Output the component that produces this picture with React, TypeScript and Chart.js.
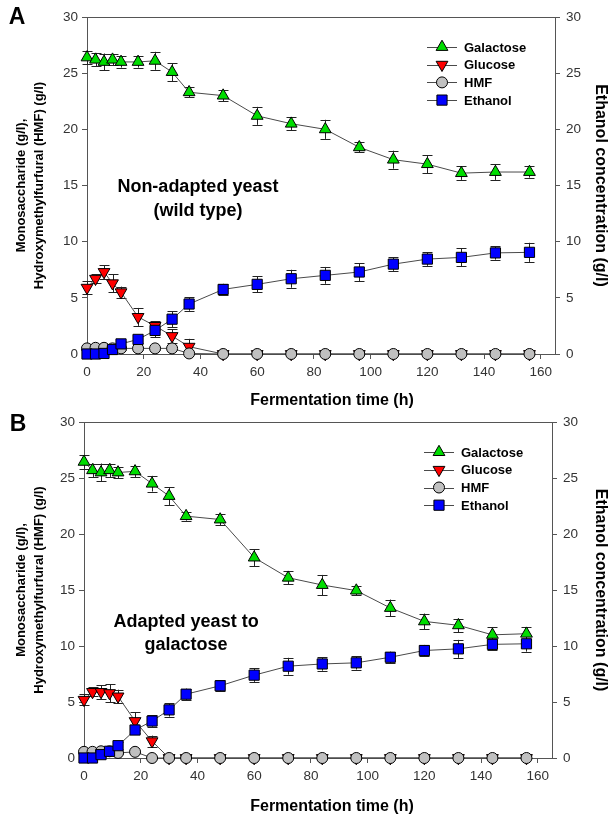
import React, { useEffect, useRef } from 'react';
import { Chart, registerables } from 'chart.js';
Chart.register(...registerables);

// ---------- data ----------
const timeH = [0, 3, 6, 9, 12, 18, 24, 30, 36, 48, 60, 72, 84, 96, 108, 120, 132, 144, 156];
const xTicks = [0, 20, 40, 60, 80, 100, 120, 140, 160];
const yTicks = [0, 5, 10, 15, 20, 25, 30];

const galactoseA = [26.4, 26.2, 26.0, 26.2, 26.0, 26.0, 26.1, 25.1, 23.3, 23.0, 21.2, 20.5, 20.0, 18.4, 17.3, 16.9, 16.1, 16.2, 16.2];
const galactoseAErr = [0.6, 0.6, 0.75, 0.5, 0.5, 0.5, 0.8, 0.8, 0.45, 0.5, 0.8, 0.6, 0.85, 0.45, 0.8, 0.8, 0.6, 0.7, 0.5];
const glucoseA = [5.9, 6.7, 7.3, 6.3, 5.5, 3.3, 2.5, 1.6, 0.65, 0, 0, 0, 0, 0, 0, 0, 0, 0, 0];
const glucoseAErr = [0.6, 0.4, 0.6, 0.8, 0.5, 0.8, 0.4, 0.6, 0.7, 0, 0, 0, 0, 0, 0, 0, 0, 0, 0];
const hmfA = [0.5, 0.55, 0.55, 0.5, 0.5, 0.5, 0.5, 0.5, 0.05, 0, 0, 0, 0, 0, 0, 0, 0, 0, 0];
const hmfAErr = [0.1, 0.25, 0.25, 0.15, 0.1, 0.1, 0.1, 0.1, 0, 0, 0, 0, 0, 0, 0, 0, 0, 0, 0];
const ethanolA = [0, 0, 0.05, 0.4, 0.9, 1.3, 2.1, 3.1, 4.45, 5.75, 6.2, 6.7, 7.0, 7.3, 8.0, 8.45, 8.6, 9.0, 9.05];
const ethanolAErr = [0.1, 0.1, 0.1, 0.2, 0.3, 0.3, 0.6, 0.7, 0.6, 0.5, 0.7, 0.8, 0.75, 0.8, 0.6, 0.6, 0.8, 0.6, 0.85];

const galactoseB = [26.45, 25.7, 25.5, 25.7, 25.5, 25.6, 24.5, 23.4, 21.6, 21.3, 17.9, 16.1, 15.45, 14.95, 13.4, 12.2, 11.85, 11.0, 11.1];
const galactoseBErr = [0.6, 0.6, 0.8, 0.6, 0.5, 0.5, 0.7, 0.8, 0.4, 0.5, 0.75, 0.6, 0.9, 0.4, 0.75, 0.7, 0.6, 0.7, 0.6];
const glucoseB = [5.2, 5.9, 5.9, 5.8, 5.5, 3.3, 1.5, 0, 0, 0, 0, 0, 0, 0, 0, 0, 0, 0, 0];
const glucoseBErr = [0.5, 0.4, 0.6, 0.8, 0.6, 0.8, 0.5, 0, 0, 0, 0, 0, 0, 0, 0, 0, 0, 0, 0];
const hmfB = [0.55, 0.55, 0.6, 0.6, 0.45, 0.55, 0, 0, 0, 0, 0, 0, 0, 0, 0, 0, 0, 0, 0];
const hmfBErr = [0.1, 0.2, 0.2, 0.2, 0.1, 0.1, 0, 0, 0, 0, 0, 0, 0, 0, 0, 0, 0, 0, 0];
const ethanolB = [0, 0, 0.3, 0.6, 1.1, 2.5, 3.3, 4.3, 5.7, 6.45, 7.4, 8.2, 8.4, 8.5, 9.0, 9.6, 9.75, 10.15, 10.2];
const ethanolBErr = [0.1, 0.1, 0.2, 0.3, 0.3, 0.3, 0.5, 0.6, 0.5, 0.5, 0.6, 0.75, 0.6, 0.6, 0.5, 0.5, 0.8, 0.5, 0.7];

const seriesLabels = ['Galactose', 'Glucose', 'HMF', 'Ethanol'];
const xTitle = 'Fermentation time (h)';
const yLeftTitle = ['Monosaccharide (g/l),', 'Hydroxymethylfurfural (HMF) (g/l)'];
const yRightTitle = 'Ethanol concentration (g/l)';
const noteA = ['Non-adapted yeast', '(wild type)'];
const noteB = ['Adapted yeast to', 'galactose'];

// ---------- styles ----------
const FONT = '"Liberation Sans", Arial, Helvetica, sans-serif';
const AXIS = '#555555';
const LINE = '#4a4a4a';
const TICK_TXT = '#333333';
const STYLES = [
  { shape: 'triangle', rot: 0, r: 6.8, fill: '#00dd00' },
  { shape: 'triangle', rot: 180, r: 6.8, fill: '#ff0000' },
  { shape: 'circle', rot: 0, r: 5.5, fill: '#c0c0c0' },
  { shape: 'rect', rot: 0, r: 7.2, fill: '#0000ff' },
];

function drawMarker(ctx, shape, x, y, r, rot, fill) {
  ctx.save();
  ctx.beginPath();
  if (shape === 'triangle') {
    let rad = (rot * Math.PI) / 180;
    ctx.moveTo(x + Math.sin(rad) * r, y - Math.cos(rad) * r);
    rad += (2 * Math.PI) / 3;
    ctx.lineTo(x + Math.sin(rad) * r, y - Math.cos(rad) * r);
    rad += (2 * Math.PI) / 3;
    ctx.lineTo(x + Math.sin(rad) * r, y - Math.cos(rad) * r);
    ctx.closePath();
  } else if (shape === 'circle') {
    ctx.arc(x, y, r, 0, Math.PI * 2);
  } else {
    const s = Math.SQRT1_2 * r;
    ctx.rect(x - s, y - s, 2 * s, 2 * s);
  }
  ctx.fillStyle = fill;
  ctx.fill();
  ctx.lineWidth = 1;
  ctx.strokeStyle = '#000';
  ctx.stroke();
  ctx.restore();
}

const decorPlugin = {
  id: 'decor',
  beforeDatasetsDraw(chart) {
    const ctx = chart.ctx;
    // error bars
    chart.data.datasets.forEach((ds: any, i) => {
      const errs = ds.errors;
      if (!errs) return;
      const meta = chart.getDatasetMeta(i);
      const ys = chart.scales[meta.yAxisID];
      ctx.save();
      ctx.strokeStyle = '#222';
      ctx.lineWidth = 1;
      meta.data.forEach((pt: any, j) => {
        const e = errs[j];
        if (!e) return;
        const v = ds.data[j].y;
        const x = Math.round(pt.x) + 0.5;
        const yt = ys.getPixelForValue(v + e);
        const yb = ys.getPixelForValue(Math.max(v - e, ys.min - 1));
        ctx.beginPath();
        ctx.moveTo(x, yt);
        ctx.lineTo(x, yb);
        ctx.moveTo(x - 5, Math.round(yt) + 0.5);
        ctx.lineTo(x + 5, Math.round(yt) + 0.5);
        if (v - e > 0) {
          ctx.moveTo(x - 5, Math.round(yb) + 0.5);
          ctx.lineTo(x + 5, Math.round(yb) + 0.5);
        }
        ctx.stroke();
      });
      ctx.restore();
    });
  },
  afterDraw(chart, _args, opts) {
    const ctx = chart.ctx;
    const a = chart.chartArea;
    ctx.save();
    // top border
    ctx.strokeStyle = AXIS;
    ctx.lineWidth = 1;
    ctx.beginPath();
    ctx.moveTo(a.left, Math.round(a.top) + 0.5);
    ctx.lineTo(a.right, Math.round(a.top) + 0.5);
    ctx.stroke();
    // x-axis title
    ctx.fillStyle = '#000';
    ctx.font = `bold 16px ${FONT}`;
    ctx.textAlign = 'center';
    ctx.textBaseline = 'alphabetic';
    ctx.fillText(xTitle, opts.xTitleX, opts.xTitleBase);
    // panel letter
    ctx.font = `bold 23px ${FONT}`;
    ctx.textBaseline = 'middle';
    ctx.fillText(opts.letter, opts.letterX, opts.letterY);
    // note text
    ctx.font = `bold 18px ${FONT}`;
    const xs = chart.scales.x;
    const ys = chart.scales.y;
    opts.note.forEach((t, i) => {
      ctx.fillText(t, xs.getPixelForValue(opts.noteX), ys.getPixelForValue(opts.noteY[i]));
    });
    // legend
    ctx.font = `bold 13px ${FONT}`;
    ctx.textAlign = 'left';
    seriesLabels.forEach((lab, i) => {
      const cx = a.right - 113;
      const cy = a.top + 30 + i * 17.7;
      ctx.strokeStyle = LINE;
      ctx.beginPath();
      ctx.moveTo(cx - 15, Math.round(cy) + 0.5);
      ctx.lineTo(cx + 15, Math.round(cy) + 0.5);
      ctx.stroke();
      const st = STYLES[i];
      drawMarker(ctx, st.shape, cx, cy, st.r, st.rot, st.fill);
      ctx.fillStyle = '#000';
      ctx.fillText(lab, cx + 22, cy + 1);
    });
    ctx.restore();
  },
};

function makeConfig(p) {
  const sets = [p.gal, p.glu, p.hmf, p.eth];
  const errs = [p.galE, p.gluE, p.hmfE, p.ethE];
  const orders = [3, 2, 1, 0];
  const datasets = sets.map((ys, k) => ({
    label: seriesLabels[k],
    data: timeH.map((t, i) => ({ x: t, y: ys[i] })),
    errors: errs[k],
    yAxisID: k === 3 ? 'y2' : 'y',
    order: orders[k],
    borderColor: LINE,
    borderWidth: 1,
    pointStyle: STYLES[k].shape,
    rotation: STYLES[k].rot,
    pointRadius: STYLES[k].r,
    pointBackgroundColor: STYLES[k].fill,
    pointBorderColor: '#000',
    pointBorderWidth: 1,
    tension: 0,
    fill: false,
    clip: false,
  }));
  const tickFont = { family: FONT, size: 13.5 };
  const grid = { drawOnChartArea: false, drawTicks: true, tickLength: 5, color: AXIS };
  const border = { display: true, color: AXIS, width: 1 };
  return {
    type: 'line',
    data: { datasets },
    plugins: [decorPlugin],
    options: {
      responsive: false,
      animation: false,
      events: [],
      layout: { padding: { top: p.top, left: 0, right: 0, bottom: 0 } },
      plugins: {
        legend: { display: false },
        tooltip: { enabled: false },
        decor: {
          letter: p.letter, letterX: p.letterX, letterY: p.letterY,
          note: p.note, noteX: p.noteX, noteY: p.noteY,
          xTitleX: p.xTitleX, xTitleBase: p.xTitleBase,
        },
      },
      scales: {
        x: {
          type: 'linear', position: 'bottom', min: 0, max: 165,
          afterBuildTicks: (s) => { s.ticks = xTicks.map((v) => ({ value: v })); },
          ticks: { font: tickFont, color: TICK_TXT, padding: 5, maxRotation: 0 },
          grid, border,
          title: { display: false },
          afterFit: (s) => { s.height = p.xH; },
        },
        y: {
          type: 'linear', position: 'left', min: 0, max: 30,
          afterBuildTicks: (s) => { s.ticks = yTicks.map((v) => ({ value: v })); },
          ticks: { font: tickFont, color: TICK_TXT, padding: 4 },
          grid, border,
          title: {
            display: true, text: yLeftTitle, color: '#000',
            font: { family: FONT, size: 13, weight: 'bold', lineHeight: 1.42 },
            padding: { top: 12, bottom: 0 },
          },
          afterFit: (s) => { s.width = p.left; },
        },
        y2: {
          type: 'linear', position: 'right', min: 0, max: 30,
          afterBuildTicks: (s) => { s.ticks = yTicks.map((v) => ({ value: v })); },
          ticks: { font: tickFont, color: TICK_TXT, padding: 6 },
          grid, border,
          title: {
            display: true, text: yRightTitle, color: '#000',
            font: { family: FONT, size: 16, weight: 'bold', lineHeight: 1.0 },
            padding: { top: 0, bottom: 0 },
          },
          afterFit: (s) => { s.width = 608 - p.right; },
        },
      },
    },
  };
}

const panelA = {
  gal: galactoseA, galE: galactoseAErr, glu: glucoseA, gluE: glucoseAErr,
  hmf: hmfA, hmfE: hmfAErr, eth: ethanolA, ethE: ethanolAErr,
  top: 17, left: 87, right: 555, xH: 54, height: 408,
  xTitleX: 332, xTitleBase: 405,
  letter: 'A', letterX: 17, letterY: 18,
  note: noteA, noteX: 39.1, noteY: [14.9, 12.7],
};
const panelB = {
  gal: galactoseB, galE: galactoseBErr, glu: glucoseB, gluE: glucoseBErr,
  hmf: hmfB, hmfE: hmfBErr, eth: ethanolB, ethE: ethanolBErr,
  top: 13, left: 84, right: 552, xH: 59, height: 409,
  xTitleX: 332, xTitleBase: 403,
  letter: 'B', letterX: 18, letterY: 17,
  note: noteB, noteX: 36, noteY: [12.1, 10.06],
};

function Panel({ p }) {
  const ref = useRef(null);
  useEffect(() => {
    const chart = new Chart(ref.current, makeConfig(p) as any);
    return () => chart.destroy();
  }, []);
  return (
    <canvas ref={ref} width={608} height={p.height} style={{ display: 'block', width: 608, height: p.height }} />
  );
}

export default function App() {
  return (
    <div style={{ position: 'fixed', left: 0, top: 0, width: 608, height: 817, background: '#fff' }}>
      <Panel p={panelA} />
      <Panel p={panelB} />
    </div>
  );
}
